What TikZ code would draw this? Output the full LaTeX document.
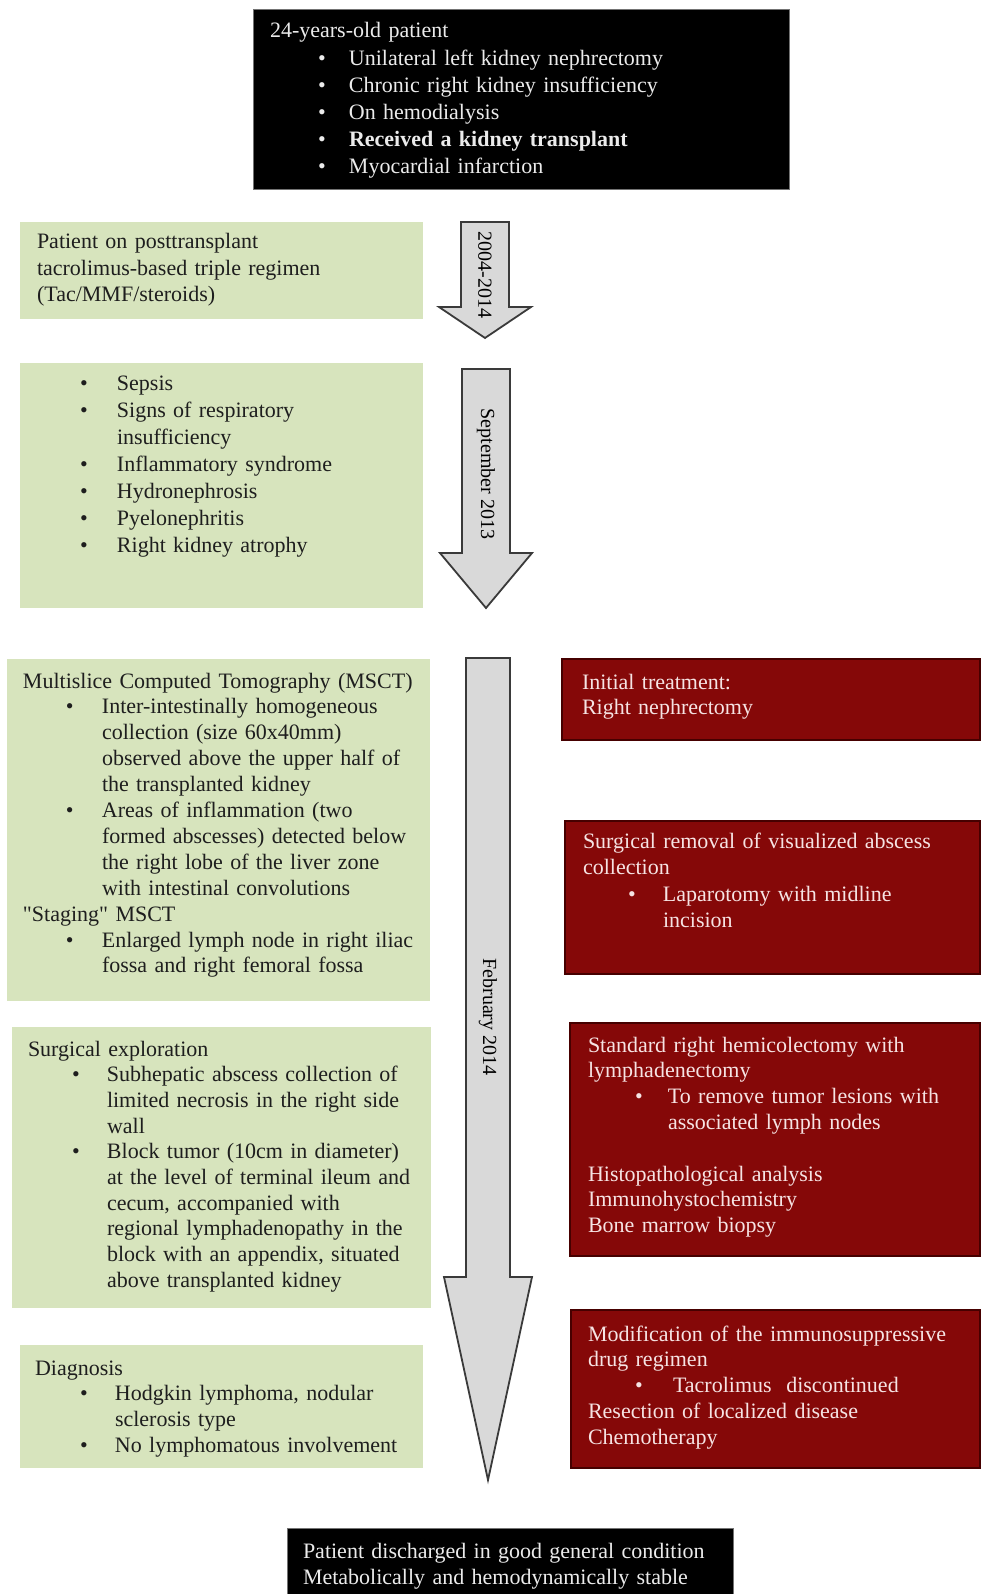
\documentclass[tikz,border=0pt]{standalone}
\usepackage{fontspec}
\setmainfont{Liberation Serif}[Ligatures=TeXOff]
\definecolor{gfill}{HTML}{D7E4BD}
\definecolor{rfill}{RGB}{133,8,8}
\definecolor{rdraw}{RGB}{70,0,0}
\definecolor{rtext}{RGB}{246,227,227}
\definecolor{afill}{HTML}{D9D9D9}
\definecolor{adraw}{HTML}{3A3A3A}
\definecolor{gtext}{HTML}{1E1E1E}
\newcommand{\fs}[2]{\fontsize{#1}{#2}\selectfont}
\newcommand{\nl}{\hfil\break}
\newcommand{\bl}[3]{\noindent\hangindent=#2pt\hangafter=1\makebox[#2pt][l]{\hspace*{#1pt}\textbullet}#3\par}
\tikzset{
  box/.style={anchor=north west, inner sep=0pt, outer sep=0pt},
  gbox/.style={box, fill=gfill},
  rbox/.style={box, fill=rfill, draw=rdraw, line width=1.2pt},
  kbox/.style={box, fill=black, draw=black!55, line width=1pt},
  txt/.style={anchor=base west, inner sep=0pt, outer sep=0pt},
  gtxt/.style={txt, text=gtext},
  rtxt/.style={txt, text=rtext, text width=450pt},
  ktxt/.style={txt, text=white!92!black, text width=600pt},
  arrowshape/.style={fill=afill, draw=adraw, line width=1.8pt, line join=miter},
  arrowlabel/.style={inner sep=0pt, rotate=-90, font=\fs{20}{24}, text=black}
}
\begin{document}
\begin{tikzpicture}[x=1pt,y=-1pt]
\useasboundingbox (0,0) rectangle (980,1594);
\fill[white] (0,0) rectangle (980,1594);

% ---------- top black box
\node[kbox, minimum width=536pt, minimum height=180pt] (tb) at (253,10) {};
\node[ktxt, font=\fs{22}{27.2}] (tbt) at (270,38) {24-years-old patient\par
\bl{48}{79}{Unilateral left kidney nephrectomy}
\bl{48}{79}{Chronic right kidney insufficiency}
\bl{48}{79}{On hemodialysis}
\bl{48}{79}{\textbf{Received a kidney transplant}}
\bl{48}{79}{Myocardial infarction}};

% ---------- green boxes
\node[gbox, minimum width=403pt, minimum height=97pt] (g1) at (20,222) {};
\node[gtxt, text width=380pt, font=\fs{22}{26.5}] (g1t) at (37,249) {Patient on posttransplant\\
tacrolimus-based triple regimen\\
(Tac/MMF/steroids)};

\node[gbox, minimum width=403pt, minimum height=245pt] (g2) at (20,363) {};
\node[gtxt, text width=380pt, font=\fs{22}{27.1}] (g2t) at (37,390) {\bl{43}{80}{Sepsis}
\bl{43}{80}{Signs of respiratory\nl insufficiency}
\bl{43}{80}{Inflammatory syndrome}
\bl{43}{80}{Hydronephrosis}
\bl{43}{80}{Pyelonephritis}
\bl{43}{80}{Right kidney atrophy}};

\node[gbox, minimum width=423pt, minimum height=342pt] (g3) at (7,659) {};
\node[gtxt, text width=420pt, font=\fs{22}{25.9}] (g3t) at (23,688) {Multislice Computed Tomography (MSCT)\par
\bl{43}{79}{Inter-intestinally homogeneous\nl collection (size 60x40mm)\nl observed above the upper half of\nl the transplanted kidney}
\bl{43}{79}{Areas of inflammation (two\nl formed abscesses) detected below\nl the right lobe of the liver zone\nl with intestinal convolutions}
"Staging" MSCT\par
\bl{43}{79}{Enlarged lymph node in right iliac\nl fossa and right femoral fossa}};

\node[gbox, minimum width=419pt, minimum height=281pt] (g4) at (12,1027) {};
\node[gtxt, text width=387pt, font=\fs{22}{25.7}] (g4t) at (28,1056) {Surgical exploration\par
\bl{44}{79}{Subhepatic abscess collection of\linebreak limited necrosis in the right side\linebreak wall}
\bl{44}{79}{Block tumor (10cm in diameter)\linebreak at the level of terminal ileum and\linebreak cecum, accompanied with\linebreak regional lymphadenopathy in the\linebreak block with an appendix, situated\linebreak above transplanted kidney}};

\node[gbox, minimum width=403pt, minimum height=123pt] (g5) at (20,1345) {};
\node[gtxt, text width=380pt, font=\fs{22}{25.7}] (g5t) at (35,1375) {Diagnosis\par
\bl{45}{80}{Hodgkin lymphoma, nodular\nl sclerosis type}
\bl{45}{80}{No lymphomatous involvement}};

% ---------- red boxes
\node[rbox, minimum width=418pt, minimum height=81pt] (r1) at (562,659) {};
\node[rtxt, font=\fs{22}{25}] (r1t) at (582,689) {Initial treatment:\\ Right nephrectomy};

\node[rbox, minimum width=415pt, minimum height=153pt] (r2) at (565,821) {};
\node[rtxt, font=\fs{22}{26.5}] (r2t) at (583,848) {Surgical removal of visualized abscess\\ collection\par
\bl{45}{80}{Laparotomy with midline\nl incision}};

\node[rbox, minimum width=410pt, minimum height=233pt] (r3) at (570,1023) {};
\node[rtxt, font=\fs{22}{25.8}] (r3t) at (588,1052) {Standard right hemicolectomy with\\ lymphadenectomy\par
\bl{47}{80}{To remove tumor lesions with\nl associated lymph nodes}
\mbox{}\par
Histopathological analysis\\
Immunohystochemistry\\
Bone marrow biopsy};

\node[rbox, minimum width=409pt, minimum height=158pt] (r4) at (571,1310) {};
\node[rtxt, font=\fs{22}{25.8}] (r4t) at (588,1341) {Modification of the immunosuppressive\\ drug regimen\par
\bl{47}{85}{Tacrolimus\ \ discontinued}
Resection of localized disease\\
Chemotherapy};

% ---------- bottom black box
\node[kbox, minimum width=446pt, minimum height=72pt] (bb) at (287,1528) {};
\node[ktxt, font=\fs{22}{26}] (bbt) at (303,1558) {Patient discharged in good general condition\\
Metabolically and hemodynamically stable};

% ---------- timeline arrows
\draw[arrowshape] (461,222) -- (509,222) -- (509,307) -- (531,307) -- (485,338) -- (439,307) -- (461,307) -- cycle;
\node[arrowlabel] (a1l) at (485,275) {2004-2014};

\draw[arrowshape] (462,369) -- (510,369) -- (510,553) -- (532,553) -- (486,608) -- (440,553) -- (462,553) -- cycle;
\node[arrowlabel] (a2l) at (486,474) {September 2013};

\draw[arrowshape] (466,658) -- (510,658) -- (510,1277) -- (532,1277) -- (488,1480) -- (444,1277) -- (466,1277) -- cycle;
\node[arrowlabel] (a3l) at (488,1017) {February 2014};
\end{tikzpicture}
\end{document}
